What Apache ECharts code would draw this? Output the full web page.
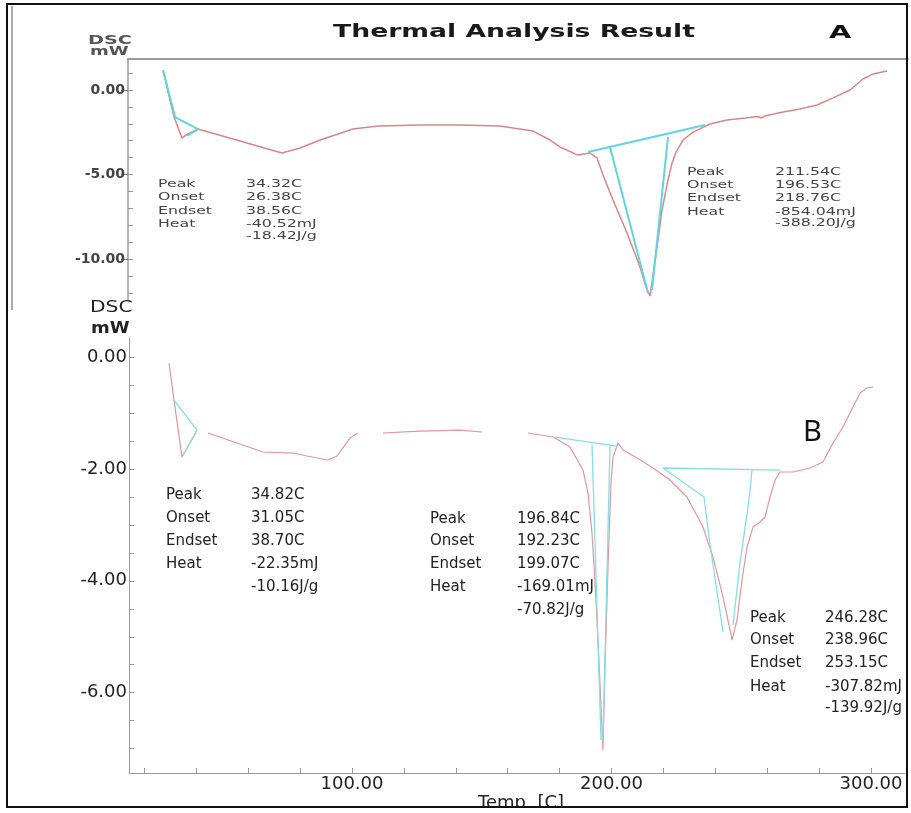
<!DOCTYPE html>
<html><head><meta charset="utf-8">
<script src="https://cdn.jsdelivr.net/npm/echarts@6/dist/echarts.min.js"></script>
<style>html,body{margin:0;padding:0;background:#fff}#c{width:911px;height:813px}</style>
</head><body><div id="c"></div>
<script>
// ---------- Panel A data ----------
const tempA = [27.13,31.29,34.32,36.59,40.38,56.28,72.19,79.00,86.58,99.07,108.54,124.45,139.59,154.74,167.23,173.68,177.46,184.28,188.82,191.47,193.75,197.53,202.84,207.76,210.03,211.54,212.68,214.57,216.09,217.23,218.36,219.88,221.39,224.04,227.83,234.26,240.70,247.52,252.44,253.57,255.00,261.91,268.34,274.78,280.84,287.27,292.20,295.99,301.29];
const dscA = [1.18,-1.60,-2.84,-2.60,-2.31,-3.02,-3.73,-3.43,-2.96,-2.31,-2.13,-2.07,-2.07,-2.13,-2.43,-2.96,-3.37,-3.85,-3.73,-4.02,-5.03,-6.51,-8.46,-10.47,-11.66,-12.19,-10.95,-8.88,-7.10,-6.21,-5.33,-4.32,-3.67,-2.96,-2.49,-2.01,-1.78,-1.66,-1.57,-1.66,-1.54,-1.30,-1.12,-0.89,-0.47,0.00,0.65,0.95,1.12];
// tangent / baseline construction lines (null = break)
const tempAc = [27.13,31.67,40.38,null,36.21,40.38,null,188.06,232.37,null,196.39,210.78,null,218.36,212.30];
const dscAc  = [1.18,-1.60,-2.31,null,-2.72,-2.31,null,-3.67,-2.07,null,-3.37,-12.01,null,-2.78,-11.83];
const yLabelsA = [0,-5,-10];
const yMinorA = [1,0,-1,-2,-3,-4,-5,-6,-7,-8,-9,-10,-11,-12];

// ---------- Panel B data ----------
const tempB = [29.48,31.41,34.49,39.11,40.27,null,44.51,65.70,77.26,82.66,90.75,94.22,99.23,102.31,null,111.95,126.20,141.62,150.10,null,167.82,177.46,184.01,189.02,190.94,192.49,194.03,195.57,196.72,197.50,198.65,199.81,200.58,202.50,204.43,209.83,215.99,222.54,229.09,235.26,239.11,242.97,245.66,246.44,248.36,250.29,252.22,254.53,257.23,259.15,261.08,263.01,264.93,269.94,276.49,281.50,285.36,289.21,293.06,295.76,298.46,300.77];
const dscB = [-0.107,-0.769,-1.788,-1.412,-1.305,null,-1.358,-1.698,-1.716,-1.769,-1.841,-1.769,-1.448,-1.358,null,-1.358,-1.323,-1.305,-1.340,null,-1.358,-1.430,-1.609,-2.020,-2.431,-3.146,-4.343,-5.827,-7.024,-5.541,-3.753,-2.252,-1.787,-1.537,-1.662,-1.805,-1.984,-2.198,-2.502,-3.038,-3.575,-4.290,-4.879,-5.058,-4.701,-3.986,-3.396,-3.038,-2.949,-2.860,-2.502,-2.198,-2.055,-2.055,-1.984,-1.877,-1.537,-1.251,-0.894,-0.643,-0.554,-0.536];
const tempBc = [31.41,40.27,null,34.87,40.27,null,178.23,202.12,null,192.49,195.95,null,199.42,196.72,null,219.85,264.93,null,219.85,235.65,237.96,242.97,null,254.14,252.99,249.52,246.82];
const dscBc  = [-0.769,-1.305,null,-1.752,-1.305,null,-1.430,-1.591,null,-1.573,-6.845,null,-1.591,-6.845,null,-1.984,-2.020,null,-1.984,-2.502,-3.360,-4.915,null,-2.020,-2.556,-3.682,-4.790];
const yLabelsB = [0,-2,-4,-6];
const yTicksB = [0,-0.5,-1,-1.5,-2,-2.5,-3,-3.5,-4,-4.5,-5,-5.5,-6,-6.5,-7];
const xLabelsB = [100,200,300];
const xTicksB = [20,40,60,80,100,120,140,160,180,200,220,240,260,280,300];

// ---------- annotation text ----------
const annoKeys = ['Peak','Onset','Endset','Heat'];
const annoA1 = ['34.32C','26.38C','38.56C','-40.52mJ','-18.42J/g'];
const annoA2 = ['211.54C','196.53C','218.76C','-854.04mJ','-388.20J/g'];
const annoB1 = ['34.82C','31.05C','38.70C','-22.35mJ','-10.16J/g'];
const annoB2 = ['196.84C','192.23C','199.07C','-169.01mJ','-70.82J/g'];
const annoB3 = ['246.28C','238.96C','253.15C','-307.82mJ','-139.92J/g'];

function zip(t, v){ return t.map((x,i)=> x===null ? ['-','-'] : [x, v[i]]); }

function txt(text, x, y, font, fill, sx){
  return {type:'text', x:x, y:y, scaleX: sx||1, z:20,
    style:{text:text, font:font, fill:fill, textAlign:'left', textVerticalAlign:'middle', align:'left', verticalAlign:'middle'}};
}
function annoBlock(vals, lx, vx, ys, font, fill, sx){
  const out=[];
  annoKeys.forEach((k,i)=> out.push(txt(k, lx, ys[i], font, fill, sx)));
  vals.forEach((v,i)=> out.push(txt(v, vx, ys[i], font, fill, sx)));
  return out;
}

const fA = '10.5px "DejaVu Sans"';
const fB = '15px "DejaVu Sans"';
let graphics = [
  txt('Thermal Analysis Result', 333, 32, 'bold 18px "DejaVu Sans"', '#1a1a1a', 1.48),
  txt('A', 829, 33, 'bold 18px "DejaVu Sans"', '#111', 1.6),
  txt('DSC', 88, 41, 'bold 12px "DejaVu Sans"', '#555', 1.6),
  txt('mW', 90, 52, 'bold 12px "DejaVu Sans"', '#555', 1.5),
  txt('DSC', 90, 308, '15px "DejaVu Sans"', '#222', 1.35),
  txt('mW', 91, 329, 'bold 15px "DejaVu Sans"', '#222', 1.2),
  txt('B', 803, 433, '29px "Noto Sans"', '#111', 1),
  {type:'text', x:478, y:794, z:20, style:{text:'Temp  [C]', font:'18px "DejaVu Sans"', fill:'#222', textAlign:'left', textVerticalAlign:'top', align:'left', verticalAlign:'top'}},
];
graphics = graphics.concat(
  annoBlock(annoA1, 158, 246, [184,197,211,224,236], fA, '#444', 1.5),
  annoBlock(annoA2, 687, 775, [172,185,198,212,223], fA, '#444', 1.5),
  annoBlock(annoB1, 166, 251, [495,518,541,564,587], fB, '#222', 1),
  annoBlock(annoB2, 430, 517, [519,541,564,587,610], fB, '#222', 1),
  annoBlock(annoB3, 750, 825, [618,640,663,687,708], fB, '#222', 1)
);
graphics.push(
  {type:'rect', z:30, shape:{x:0,y:808,width:911,height:5}, style:{fill:'#fff'}},
  {type:'line', z:30, shape:{x1:12,y1:6,x2:12,y2:310}, style:{stroke:'#aaa', lineWidth:2}},
  {type:'rect', z:31, shape:{x:7,y:4,width:900,height:803}, style:{fill:'none', stroke:'#111', lineWidth:2}}
);

const fmt2 = v => (Math.abs(v) < 1e-9 ? 0 : v).toFixed(2);

const option = {
  animation: false,
  backgroundColor: '#fff',
  grid: [
    {left:128, top:59, width:780, height:241},
    {left:129, top:338, width:776, height:435}
  ],
  xAxis: [
    {type:'value', gridIndex:0, min:13.87, max:309.24, show:false},
    {type:'value', gridIndex:0, position:'top', min:13.87, max:309.24,
      axisLine:{show:true, onZero:false, lineStyle:{color:'#9a9a9a', width:2}}, axisTick:{show:false}, axisLabel:{show:false}, splitLine:{show:false}},
    {type:'value', gridIndex:1, min:14.07, max:313.1,
      axisLine:{show:true, onZero:false, lineStyle:{color:'#999', width:1}},
      axisTick:{show:true, inside:true, length:5, customValues:xTicksB, lineStyle:{color:'#999'}},
      axisLabel:{show:true, customValues:xLabelsB, formatter:fmt2, margin:2, color:'#222', fontSize:18, fontFamily:'DejaVu Sans'},
      splitLine:{show:false}}
  ],
  yAxis: [
    {type:'value', gridIndex:0, position:'left', min:-12.426, max:1.834,
      axisLine:{show:true, onZero:false, lineStyle:{color:'#9a9a9a', width:1.5}},
      axisTick:{show:true, inside:false, length:7, customValues:yLabelsA, lineStyle:{color:'#777'}},
      axisLabel:{show:true, customValues:yLabelsA, formatter:fmt2, margin:3, color:'#444', fontSize:14, fontWeight:'bold', fontFamily:'DejaVu Sans'},
      splitLine:{show:false}},
    {type:'value', gridIndex:0, position:'left', min:-12.426, max:1.834,
      axisLine:{show:false, onZero:false},
      axisTick:{show:true, inside:true, length:5, customValues:yMinorA, lineStyle:{color:'#999'}},
      axisLabel:{show:false}, splitLine:{show:false}},
    {type:'value', gridIndex:1, position:'left', min:-7.435, max:0.34,
      axisLine:{show:true, onZero:false, lineStyle:{color:'#999', width:1}},
      axisTick:{show:true, inside:true, length:5, customValues:yTicksB, lineStyle:{color:'#999'}},
      axisLabel:{show:true, customValues:yLabelsB, formatter:fmt2, margin:2, color:'#222', fontSize:18, fontFamily:'DejaVu Sans'},
      splitLine:{show:false}}
  ],
  series: [
    {name:'A DSC', type:'line', xAxisIndex:0, yAxisIndex:0, data:zip(tempA,dscA), symbol:'none', silent:true,
      lineStyle:{color:'#d9868b', width:1.5}, z:3},
    {name:'A tangents', type:'line', xAxisIndex:0, yAxisIndex:0, data:zip(tempAc,dscAc), symbol:'none', silent:true,
      lineStyle:{color:'#62d4da', width:2}, z:4},
    {name:'B DSC', type:'line', xAxisIndex:2, yAxisIndex:2, data:zip(tempB,dscB), symbol:'none', silent:true,
      lineStyle:{color:'#e0969a', width:1.2}, z:3},
    {name:'B tangents', type:'line', xAxisIndex:2, yAxisIndex:2, data:zip(tempBc,dscBc), symbol:'none', silent:true,
      lineStyle:{color:'#84dfe3', width:1.3}, z:4}
  ],
  graphic: graphics
};
const chart = echarts.init(document.getElementById('c'));
chart.setOption(option);
</script>
</body></html>
